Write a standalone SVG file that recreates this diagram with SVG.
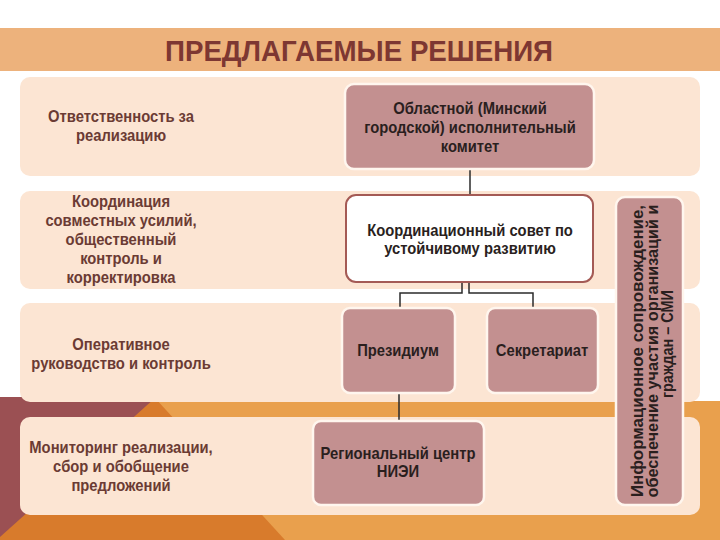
<svg xmlns="http://www.w3.org/2000/svg" width="720" height="540" viewBox="0 0 720 540">
<style>
.row{fill:#FCE5D3}
.node{fill:#C39090;stroke:#FFF6EE;stroke-width:2.5}
.nodew{fill:#FFFFFF;stroke:#A45A55;stroke-width:2}
.nt{font-family:"Liberation Sans",Arial,sans-serif;font-weight:bold;font-size:17px;fill:#2A1F1E;text-anchor:middle}
.vt{font-family:"Liberation Sans",Arial,sans-serif;font-weight:bold;font-size:16px;fill:#2A1F1E;text-anchor:middle}
.lt{font-family:"Liberation Sans",Arial,sans-serif;font-weight:bold;font-size:17px;fill:#6B3B34;text-anchor:middle}
.conn{stroke:#2B2B2B;stroke-width:1.5;fill:none}
</style>
<rect x="0" y="0" width="720" height="540" fill="#FFFFFF"/>
<rect x="150" y="401" width="570" height="139" fill="#E9A04D"/>
<polygon points="0,397 158,397 0,540" fill="#9B5053"/>
<polygon points="0,537 155,398 285,540 0,540" fill="#D87B2C"/>
<rect x="0" y="28" width="720" height="43" fill="#EDB27C"/>
<text x="359" y="61" font-family="'Liberation Sans',Arial,sans-serif" font-weight="bold" font-size="29" fill="#7D3732" text-anchor="middle" textLength="388" lengthAdjust="spacingAndGlyphs">ПРЕДЛАГАЕМЫЕ РЕШЕНИЯ</text>
<g id="row1"><rect class="row" x="20" y="77" width="680" height="99" rx="10"/>
<g transform="translate(121,0) scale(0.87,1)">
<text class="lt" x="0" y="122">Ответственность за</text>
<text class="lt" x="0" y="141">реализацию</text></g></g>
<g id="row2"><rect class="row" x="20" y="191" width="680" height="98" rx="10"/>
<g transform="translate(121,0) scale(0.87,1)">
<text class="lt" x="0" y="207">Координация</text>
<text class="lt" x="0" y="226">совместных усилий,</text>
<text class="lt" x="0" y="245">общественный</text>
<text class="lt" x="0" y="264">контроль и</text>
<text class="lt" x="0" y="283">корректировка</text></g></g>
<g id="row3"><rect class="row" x="20" y="303" width="680" height="99" rx="10"/>
<g transform="translate(121,0) scale(0.87,1)">
<text class="lt" x="0" y="350">Оперативное</text>
<text class="lt" x="0" y="369">руководство и контроль</text></g></g>
<g id="row4"><rect class="row" x="20" y="417" width="680" height="98" rx="10"/>
<g transform="translate(121,0) scale(0.87,1)">
<text class="lt" x="0" y="453">Мониторинг реализации,</text>
<text class="lt" x="0" y="472">сбор и обобщение</text>
<text class="lt" x="0" y="491">предложений</text></g></g>
<g id="connectors">
<path class="conn" d="M470,169 V195"/>
<path class="conn" d="M462,282 V293 H400 V308"/>
<path class="conn" d="M469,282 V293 H533 V308"/>
<path class="conn" d="M399,393 V421"/>
</g>
<g id="n-oblispolkom"><rect class="node" x="345" y="84" width="249" height="85" rx="9"/>
<g transform="translate(470,0) scale(0.87,1)">
<text class="nt" x="0" y="114">Областной (Минский</text>
<text class="nt" x="0" y="133">городской) исполнительный</text>
<text class="nt" x="0" y="152">комитет</text></g></g>
<g id="n-sovet"><rect class="nodew" x="346" y="195" width="247" height="87" rx="10"/>
<g transform="translate(470,0) scale(0.87,1)">
<text class="nt" x="0" y="236">Координационный совет по</text>
<text class="nt" x="0" y="254">устойчивому развитию</text></g></g>
<g id="n-prezidium"><rect class="node" x="342" y="308" width="113" height="85" rx="8"/>
<g transform="translate(398,0) scale(0.87,1)">
<text class="nt" x="0" y="356">Президиум</text></g></g>
<g id="n-sekretariat"><rect class="node" x="487" y="308" width="111" height="85" rx="8"/>
<g transform="translate(542,0) scale(0.87,1)">
<text class="nt" x="0" y="356">Секретариат</text></g></g>
<g id="n-niei"><rect class="node" x="313" y="421" width="171" height="84" rx="8"/>
<g transform="translate(398,0) scale(0.87,1)">
<text class="nt" x="0" y="459">Региональный центр</text>
<text class="nt" x="0" y="477">НИЭИ</text></g></g>
<g id="n-smi"><rect class="node" x="616" y="197" width="67" height="308" rx="9"/>
<text class="vt" transform="translate(643,351) rotate(-90)" x="0" y="0" textLength="292" lengthAdjust="spacingAndGlyphs">Информационное сопровождение,</text>
<text class="vt" transform="translate(658,351) rotate(-90)" x="0" y="0" textLength="293" lengthAdjust="spacingAndGlyphs">обеспечение участия организаций и</text>
<text class="vt" transform="translate(673,344) rotate(-90)" x="0" y="0" textLength="108" lengthAdjust="spacingAndGlyphs">граждан – СМИ</text>
</g>
</svg>
